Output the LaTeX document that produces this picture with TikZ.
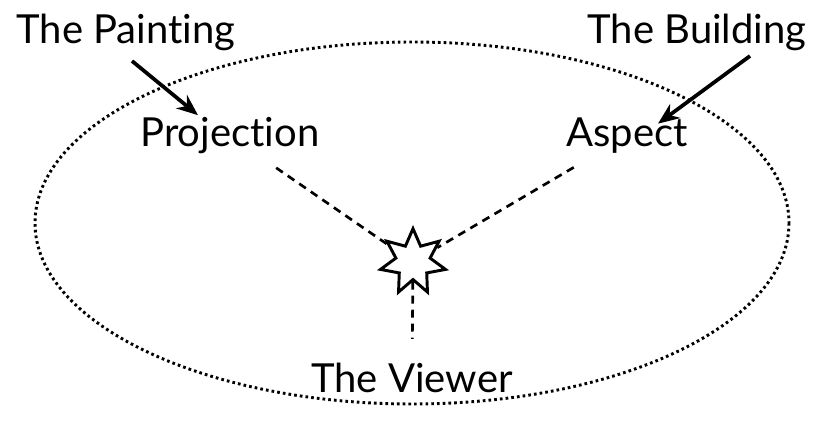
\documentclass[tikz,border=0pt]{standalone}
\usepackage{fontspec}
\setmainfont[Ligatures={NoCommon}]{Lato}
\usepackage{tikz}
\usetikzlibrary{shapes.geometric, arrows.meta, positioning, calc}
\tikzset{
  label/.style={font=\fontsize{30}{34}\selectfont, inner sep=4pt},
  viewline/.style={dash pattern=on 6pt off 4.5pt, line width=2pt, color=black},
  pointer/.style={-{Stealth[length=16pt, width=13pt]}, line width=2.8pt, color=black},
  eye/.style={star, star points=7, star point ratio=1.9, draw, line width=2.2pt,
    minimum size=50pt, inner sep=0pt, fill=white}
}
\begin{document}
\begin{tikzpicture}[x=0.75pt, y=-0.75pt]
  \useasboundingbox (0,0) rectangle (825,421);

  % Frame
  \draw[dash pattern=on 2pt off 2.3pt, line width=2.2pt] (412,223) ellipse [x radius=377, y radius=181];

  % Labels
  \node[label] (painting) at (126,32) {The Painting};
  \node[label] (building) at (697,32) {The Building};
  \node[label, inner sep=10pt] (proj) at (230,136) {Projection};
  \node[label, inner sep=10pt] (aspect) at (627,136) {Aspect};
  \node[label, inner sep=10pt] (viewer) at (412,378) {The Viewer};

  % Viewer point
  \node[eye] (star) at (413,262) {};

  % Connections
  \draw[viewline] (proj) -- (star);
  \draw[viewline] (aspect) -- (star);
  \draw[viewline, shorten >=8pt] (star) -- (viewer);
  \draw[pointer] ($(painting.south)+(6,5)$) -- ($(proj.north)+(-32,11)$);
  \draw[pointer] ($(building.south)+(53,0)$) -- ($(aspect.north)+(31,19)$);
\end{tikzpicture}
\end{document}
